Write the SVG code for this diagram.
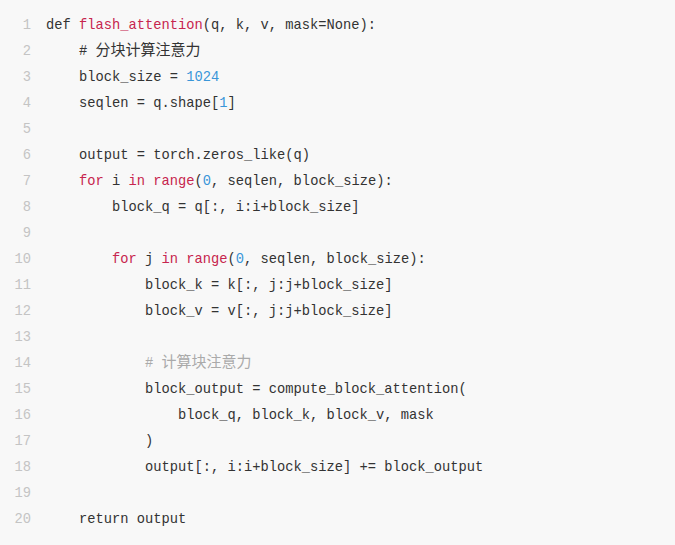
<svg xmlns="http://www.w3.org/2000/svg" width="675" height="545" viewBox="0 0 675 545">
<style>
.code{font-family:"Liberation Mono","DejaVu Sans Mono",monospace;font-size:13.75px;fill:#333333;white-space:pre}
.ln{font-family:"Liberation Mono","DejaVu Sans Mono",monospace;font-size:13.75px;fill:#c4c4c4;text-anchor:end}
.kw{fill:#c7254e}
.num{fill:#3a96d8}
.cm{fill:#aaaaaa}
.cjk{font-family:"Noto Sans CJK SC","Noto Sans",sans-serif;font-size:15px}
</style>
<rect x="0" y="0" width="675" height="545" fill="#f8f8f8"/>
<g id="line-numbers">
<text class="ln" x="31" y="28.5">1</text>
<text class="ln" x="31" y="54.5">2</text>
<text class="ln" x="31" y="80.5">3</text>
<text class="ln" x="31" y="106.5">4</text>
<text class="ln" x="31" y="132.5">5</text>
<text class="ln" x="31" y="158.5">6</text>
<text class="ln" x="31" y="184.5">7</text>
<text class="ln" x="31" y="210.5">8</text>
<text class="ln" x="31" y="236.5">9</text>
<text class="ln" x="31" y="262.5">10</text>
<text class="ln" x="31" y="288.5">11</text>
<text class="ln" x="31" y="314.5">12</text>
<text class="ln" x="31" y="340.5">13</text>
<text class="ln" x="31" y="366.5">14</text>
<text class="ln" x="31" y="392.5">15</text>
<text class="ln" x="31" y="418.5">16</text>
<text class="ln" x="31" y="444.5">17</text>
<text class="ln" x="31" y="470.5">18</text>
<text class="ln" x="31" y="496.5">19</text>
<text class="ln" x="31" y="522.5">20</text>
</g>
<g id="code" xml:space="preserve">
<text class="code" x="46" y="28.5">def <tspan class="kw">flash_attention</tspan>(q, k, v, mask=None):</text>
<text class="code" x="79" y="54.5"># <tspan class="cjk">分块计算注意力</tspan></text>
<text class="code" x="79" y="80.5">block_size = <tspan class="num">1024</tspan></text>
<text class="code" x="79" y="106.5">seqlen = q.shape[<tspan class="num">1</tspan>]</text>
<text class="code" x="79" y="158.5">output = torch.zeros_like(q)</text>
<text class="code" x="79" y="184.5"><tspan class="kw">for</tspan> i <tspan class="kw">in</tspan> <tspan class="kw">range</tspan>(<tspan class="num">0</tspan>, seqlen, block_size):</text>
<text class="code" x="112" y="210.5">block_q = q[:, i:i+block_size]</text>
<text class="code" x="112" y="262.5"><tspan class="kw">for</tspan> j <tspan class="kw">in</tspan> <tspan class="kw">range</tspan>(<tspan class="num">0</tspan>, seqlen, block_size):</text>
<text class="code" x="145" y="288.5">block_k = k[:, j:j+block_size]</text>
<text class="code" x="145" y="314.5">block_v = v[:, j:j+block_size]</text>
<text class="code cm" x="145" y="366.5"># <tspan class="cjk">计算块注意力</tspan></text>
<text class="code" x="145" y="392.5">block_output = compute_block_attention(</text>
<text class="code" x="178" y="418.5">block_q, block_k, block_v, mask</text>
<text class="code" x="145" y="444.5">)</text>
<text class="code" x="145" y="470.5">output[:, i:i+block_size] += block_output</text>
<text class="code" x="79" y="522.5">return output</text>
</g>
</svg>
